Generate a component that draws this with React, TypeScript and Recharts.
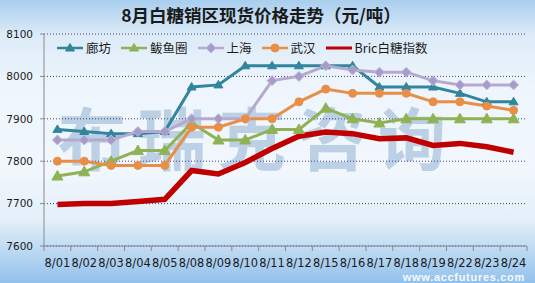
import { CartesianGrid, Line, LineChart, XAxis, YAxis } from 'recharts';

const categories = ['8/01', '8/02', '8/03', '8/04', '8/05', '8/08', '8/09', '8/10', '8/11', '8/12', '8/15', '8/16', '8/17', '8/18', '8/19', '8/22', '8/23', '8/24'];
const langfang = [7875, 7870, 7865, 7865, 7870, 7975, 7980, 8025, 8025, 8025, 8025, 8025, 7975, 7975, 7975, 7960, 7940, 7940];
const bayuquan = [7765, 7775, 7800, 7825, 7825, 7890, 7850, 7850, 7875, 7875, 7925, 7900, 7890, 7900, 7900, 7900, 7900, 7900];
const shanghai = [7850, 7850, 7850, 7870, 7870, 7900, 7900, 7900, 7990, 8000, 8025, 8015, 8010, 8010, 7990, 7980, 7980, 7980];
const wuhan = [7800, 7800, 7790, 7790, 7790, 7880, 7880, 7900, 7900, 7940, 7970, 7960, 7960, 7960, 7940, 7940, 7930, 7920];
const bric = [7698, 7700, 7700, 7705, 7710, 7778, 7770, 7797, 7830, 7859, 7869, 7865, 7853, 7855, 7837, 7842, 7834, 7821];
const yTicks = [7600, 7700, 7800, 7900, 8000, 8100];

type Marker = 'tri' | 'bigtri' | 'diamond' | 'circle' | 'none';

const series: { key: string; name: string; values: number[]; color: string; fill: string; width: number; marker: Marker }[] = [
  { key: 'langfang', name: '廊坊', values: langfang, color: '#31859c', fill: '#31859c', width: 3, marker: 'tri' },
  { key: 'bayuquan', name: '鲅鱼圈', values: bayuquan, color: '#8fb254', fill: '#8fb254', width: 3, marker: 'bigtri' },
  { key: 'shanghai', name: '上海', values: shanghai, color: '#b7a8cf', fill: '#a59ccb', width: 3, marker: 'diamond' },
  { key: 'wuhan', name: '武汉', values: wuhan, color: '#e98e46', fill: '#e98e46', width: 3, marker: 'circle' },
  { key: 'bric', name: 'Bric白糖指数', values: bric, color: '#c00000', fill: '#c00000', width: 5.5, marker: 'none' },
];

const data = categories.map((date, i) => {
  const row: Record<string, string | number> = { date };
  series.forEach((s) => {
    row[s.key] = s.values[i];
  });
  return row;
});

const W = 535;
const H = 283;
const margin = { top: 34, right: 8, left: 4, bottom: 7 };
const yAxisWidth = 40;
const band = (W - margin.left - margin.right - yAxisWidth) / categories.length;
const axisColor = '#8a8a8a';
const cjk = '"Noto Sans CJK SC", sans-serif';
const num = '"DejaVu Sans", sans-serif';

function MarkerShape({ kind, cx, cy, color, fill }: { kind: Marker; cx: number; cy: number; color: string; fill: string }) {
  if (kind === 'tri') {
    return <polygon points={`${cx},${cy - 4.5} ${cx + 4.5},${cy + 3} ${cx - 4.5},${cy + 3}`} fill={fill} stroke={color} />;
  }
  if (kind === 'bigtri') {
    return <polygon points={`${cx},${cy - 5.5} ${cx + 5.5},${cy + 4} ${cx - 5.5},${cy + 4}`} fill={fill} stroke={color} />;
  }
  if (kind === 'diamond') {
    return <polygon points={`${cx},${cy - 5} ${cx + 5},${cy} ${cx},${cy + 5} ${cx - 5},${cy}`} fill={fill} stroke="#c4b9dc" strokeWidth={1} />;
  }
  if (kind === 'circle') {
    return <circle cx={cx} cy={cy} r={4} fill={fill} stroke={color} />;
  }
  return null;
}

function XTick(props: any) {
  const { x, y, payload, index } = props;
  return (
    <g>
      <line x1={x - band / 2} x2={x - band / 2} y1={y} y2={y + 5} stroke={axisColor} />
      {index === categories.length - 1 && (
        <line x1={x + band / 2} x2={x + band / 2} y1={y} y2={y + 5} stroke={axisColor} />
      )}
      <text x={x} y={y + 21} textAnchor="middle" fontSize={11.4} fontFamily={num} fill="#1a1a1a">
        {payload.value}
      </text>
    </g>
  );
}

function LegendBox() {
  return (
    <div style={{ position: 'absolute', left: 57, top: 40, display: 'flex', alignItems: 'center', fontFamily: cjk, fontSize: 12.5, color: '#1a1a1a', lineHeight: '16px', whiteSpace: 'nowrap' }}>
      {series.map((s) => (
        <div key={s.key} style={{ display: 'flex', alignItems: 'center', marginRight: 10 }}>
          <svg width={26} height={12} style={{ marginRight: 3 }}>
            <line x1={0} x2={26} y1={6} y2={6} stroke={s.color} strokeWidth={s.marker === 'none' ? 3 : 2.5} />
            <MarkerShape kind={s.marker === 'bigtri' ? 'tri' : s.marker} cx={13} cy={6} color={s.color} fill={s.fill} />
          </svg>
          <span>{s.name}</span>
        </div>
      ))}
    </div>
  );
}

export default function App() {
  return (
    <div
      style={{
        position: 'absolute',
        left: 0,
        top: 0,
        width: W,
        height: H,
        overflow: 'hidden',
        background: 'linear-gradient(to bottom, #a9cdee 0%, #dcebf8 12%, #eef5fc 30%, #f1f7fd 60%, #e3eff9 78%, #b7d6f1 90%, #92c1ec 100%)',
      }}
    >
      <div style={{ position: 'absolute', left: 0, width: 522, top: 4, textAlign: 'center', fontFamily: cjk, fontWeight: 700, fontSize: 17.5, lineHeight: '22px', color: '#1a1a1a' }}>
        8月白糖销区现货价格走势（元/吨）
      </div>
      <div style={{ position: 'absolute', left: 58, top: 100, fontFamily: cjk, fontWeight: 700, fontSize: 68, lineHeight: '72px', letterSpacing: 12, color: '#a7c1db', opacity: 0.7, whiteSpace: 'nowrap' }}>
        布瑞克咨询
      </div>
      <div style={{ position: 'absolute', left: 0, top: 0 }}>
        <LineChart width={W} height={H} data={data} margin={margin}>
          <CartesianGrid vertical={false} stroke="#3d3d86" strokeDasharray="1 2" />
          <XAxis
            dataKey="date"
            interval={0}
            height={30}
            tickSize={0}
            tickMargin={0}
            tickLine={false}
            padding={{ left: band / 2, right: band / 2 }}
            axisLine={{ stroke: axisColor }}
            tick={<XTick />}
          />
          <YAxis
            domain={[7600, 8100]}
            ticks={yTicks}
            width={yAxisWidth}
            tickSize={4}
            tickMargin={7}
            axisLine={{ stroke: axisColor }}
            tickLine={{ stroke: axisColor }}
            tick={{ fontSize: 10.5, fontFamily: num, fill: '#1a1a1a' }}
          />
          {series.map((s) => (
            <Line
              key={s.key}
              type="linear"
              dataKey={s.key}
              name={s.name}
              stroke={s.color}
              strokeWidth={s.width}
              isAnimationActive={false}
              dot={s.marker === 'none' ? false : (p: any) => <MarkerShape key={`${s.key}-${p.index}`} kind={s.marker} cx={p.cx} cy={p.cy} color={s.color} fill={s.fill} />}
              activeDot={false}
            />
          ))}
        </LineChart>
      </div>
      <LegendBox />
      <div style={{ position: 'absolute', right: 10, top: 272, fontFamily: '"Liberation Sans", sans-serif', fontWeight: 700, fontSize: 11, lineHeight: '11px', letterSpacing: 0.7, color: '#ffffff', opacity: 0.9 }}>
        www.accfutures.com
      </div>
    </div>
  );
}
